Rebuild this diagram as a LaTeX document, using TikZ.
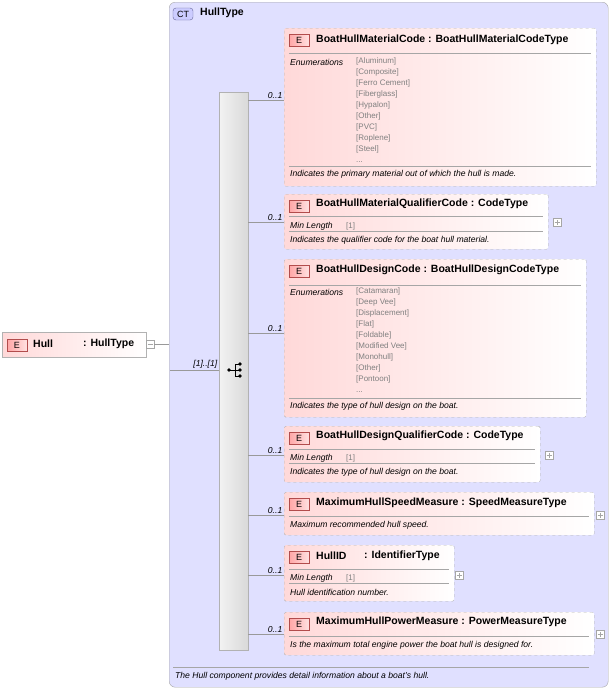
\documentclass[tikz,border=0pt]{standalone}
\usepackage{fontspec}
\setmainfont{Liberation Sans}
\begin{document}
\begin{tikzpicture}[x=1pt,y=-1pt,font=\fontsize{8}{9}\selectfont,
 ebox/.style={draw=gray!60,dashed,left color=red!15,right color=white,rounded corners=1.5pt},
 badge/.style={draw=red!40!gray,left color=red!35,right color=red!12,minimum width=20pt,minimum height=12pt,inner sep=0pt,font=\fontsize{9}{9}\selectfont},
 head/.style={anchor=west,font=\bfseries\fontsize{10.5}{11}\selectfont,inner sep=0pt},
 lab/.style={anchor=west,font=\itshape\fontsize{8.6}{9}\selectfont,inner sep=0pt},
 enum/.style={anchor=north west,font=\fontsize{8}{11}\selectfont,text=gray,inner sep=0pt,align=left},
 sep/.style={draw=gray!70},
 card/.style={font=\itshape\fontsize{8.6}{9}\selectfont,anchor=south east,inner sep=1.5pt},
 pbox/.style={draw=gray!70,fill=white,minimum size=8pt,inner sep=0pt},
 conn/.style={draw=gray!80}]
\useasboundingbox (0,0) rectangle (612,691);
% CT container
\node[draw=gray!70,fill=blue!12,rounded corners=6pt,minimum width=439pt,minimum height=685pt,anchor=north west,inner sep=0pt] (ct) at (169,2) {};
\node[draw=gray!80!blue,fill=blue!20,rounded corners=3pt,minimum width=20pt,minimum height=12pt,inner sep=0pt,font=\fontsize{9}{9}\selectfont] (ctb) at (183,14) {CT};
\node[head] (ctn) at (200,13) {HullType};
\draw[sep] (173,667) -- (589,667);
\node[lab] (ctd) at (175,676) {The Hull component provides detail information about a boat's hull.};
% Hull
\node[draw=gray!60,left color=red!15,right color=white,minimum width=144pt,minimum height=25pt,anchor=north west,inner sep=0pt] (hull) at (2,332) {};
\node[badge] (hb) at (17,345) {E};
\node[head] at (33,344) {Hull};
\node[head] at (83,344) {: HullType};
\node[pbox] (hm) at (150,344) {};
\draw[gray!70] ([xshift=-2.5pt]hm.center) -- ([xshift=2.5pt]hm.center);
% sequence
\node[draw=gray!60,left color=gray!10,right color=gray!30,minimum width=29pt,minimum height=558pt,anchor=north west,inner sep=0pt] (seq) at (219,92) {};
\coordinate (ctin) at (169,344);
\draw[conn] (hm.east) -- (ctin);
\coordinate (seqin) at (170,370);
\draw[conn] (seqin) -- (219,370) node[card] {[1]..[1]};
% sequence icon
\draw[thick] (229,370) -- (235,370) (235,364) -- (235,376) (235,364) -- (240,364) (235,370) -- (240,370) (235,376) -- (240,376);
\fill (229,370) circle (1.8) (240,364) circle (1.8) (240,370) circle (1.8) (240,376) circle (1.8);
% boxes
\newcommand\ebx[6]{% name, x1,y1,x2,y2, liney
 \node[ebox,minimum width={#4-#2},minimum height={#5-#3},anchor=north west,inner sep=0pt] (#1) at (#2,#3) {};
 \node[badge] at (#2+15,#3+12) {E};
 \draw[conn] (248,#6) -- (#2,#6) node[card] {0..1};
}
\ebx{b1}{284}{28}{596}{186}{100}
\node[head] at (316,40) {BoatHullMaterialCode : BoatHullMaterialCodeType};
\draw[sep] (289,53) -- (591,53);
\node[lab] at (290,62) {Enumerations};
\node[enum] at (356,57) {{[Aluminum]}\\{[Composite]}\\{[Ferro Cement]}\\{[Fiberglass]}\\{[Hypalon]}\\{[Other]}\\{[PVC]}\\{[Roplene]}\\{[Steel]}\\{...}};
\draw[sep] (289,166) -- (591,166);
\node[lab] at (290,174) {Indicates the primary material out of which the hull is made.};

\ebx{b2}{284}{194}{548}{249}{222}
\node[head] at (316,204) {BoatHullMaterialQualifierCode : CodeType};
\draw[sep] (289,216) -- (543,216);
\node[lab] at (290,226) {Min Length};
\node[enum,anchor=west] at (346,226) {[1]};
\draw[sep] (289,231) -- (543,231);
\node[lab] at (290,240) {Indicates the qualifier code for the boat hull material.};
\node[pbox] (p2) at (557,222) {};

\ebx{b3}{284}{259}{586}{417}{333}
\node[head] at (316,270) {BoatHullDesignCode : BoatHullDesignCodeType};
\draw[sep] (289,285) -- (581,285);
\node[lab] at (290,292) {Enumerations};
\node[enum] at (356,287) {{[Catamaran]}\\{[Deep Vee]}\\{[Displacement]}\\{[Flat]}\\{[Foldable]}\\{[Modified Vee]}\\{[Monohull]}\\{[Other]}\\{[Pontoon]}\\{...}};
\draw[sep] (289,398) -- (581,398);
\node[lab] at (290,406) {Indicates the type of hull design on the boat.};

\ebx{b4}{284}{426}{540}{482}{455}
\node[head] at (316,436) {BoatHullDesignQualifierCode : CodeType};
\draw[sep] (289,449) -- (535,449);
\node[lab] at (290,458) {Min Length};
\node[enum,anchor=west] at (346,458) {[1]};
\draw[sep] (289,463) -- (535,463);
\node[lab] at (290,472) {Indicates the type of hull design on the boat.};
\node[pbox] (p4) at (549,455) {};

\ebx{b5}{284}{492}{594}{535}{515}
\node[head] at (316,503) {MaximumHullSpeedMeasure : SpeedMeasureType};
\draw[sep] (289,516) -- (589,516);
\node[lab] at (290,525) {Maximum recommended hull speed.};
\node[pbox] (p5) at (600,515) {};

\ebx{b6}{284}{545}{454}{601}{575}
\node[head] at (316,556) {HullID};
\node[head] at (364,556) {: IdentifierType};
\draw[sep] (289,569) -- (449,569);
\node[lab] at (290,578) {Min Length};
\node[enum,anchor=west] at (346,578) {[1]};
\draw[sep] (289,583) -- (449,583);
\node[lab] at (290,592) {Hull identification number.};
\node[pbox] (p6) at (459,575) {};

\ebx{b7}{284}{612}{594}{655}{634}
\node[head] at (316,622) {MaximumHullPowerMeasure : PowerMeasureType};
\draw[sep] (289,636) -- (589,636);
\node[lab] at (290,645) {Is the maximum total engine power the boat hull is designed for.};
\node[pbox] (p7) at (600,634) {};
\foreach \p in {p2,p4,p5,p6,p7}{\draw[gray!70] ([xshift=-2.5pt]\p.center) -- ([xshift=2.5pt]\p.center) ([yshift=-2.5pt]\p.center) -- ([yshift=2.5pt]\p.center);}
\end{tikzpicture}
\end{document}
